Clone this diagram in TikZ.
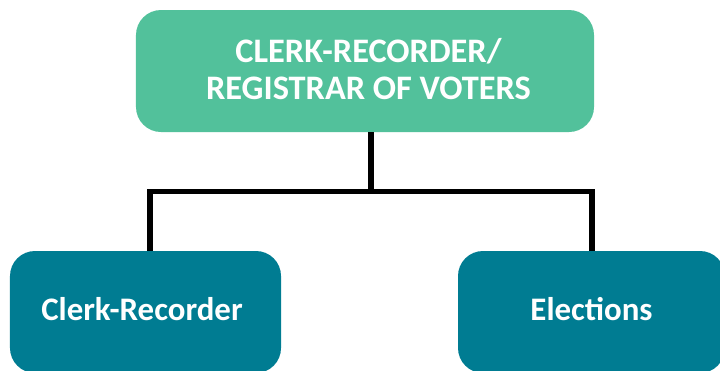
\documentclass[tikz,border=0pt]{standalone}
\usepackage{fontspec}
\setmainfont{Carlito}
\definecolor{topgreen}{RGB}{82,193,155}
\definecolor{childblue}{RGB}{0,124,146}
\begin{document}
\begin{tikzpicture}[x=1bp,y=-1bp,
  box/.style={rounded corners=25bp, inner sep=0pt, text=white, align=center,
    font=\bfseries\fontsize{33}{38}\selectfont},
  conn/.style={line width=5.5bp, draw=black}]
\useasboundingbox (0,0) rectangle (720,370);
\clip (0,0) rectangle (720,370);
\node[box, fill=topgreen, minimum width=458bp, minimum height=122bp] (top) at (365,71) {};
\node[box, fill=childblue, minimum width=271bp, minimum height=122bp] (left) at (145.5,312) {};
\node[box, fill=childblue, minimum width=267bp, minimum height=122bp] (right) at (591.5,312) {};
\node[box, font=\bfseries\fontsize{34.5}{38}\selectfont] (toptext) at (368.5,69) {CLERK-RECORDER/\\REGISTRAR OF VOTERS};
\node[box] (lefttext) at (142,309) {Clerk-Recorder};
\node[box] (righttext) at (591.5,309) {Elections};
\coordinate (jm) at (371.2,191.3);
\coordinate (jl) at (150,191.3);
\coordinate (jr) at (592,191.3);
\draw[conn] (top.south -| jm) -- (jm);
\draw[conn] (left.north -| jl) -- (jl) -- (jr) -- (right.north -| jr);
\end{tikzpicture}
\end{document}
